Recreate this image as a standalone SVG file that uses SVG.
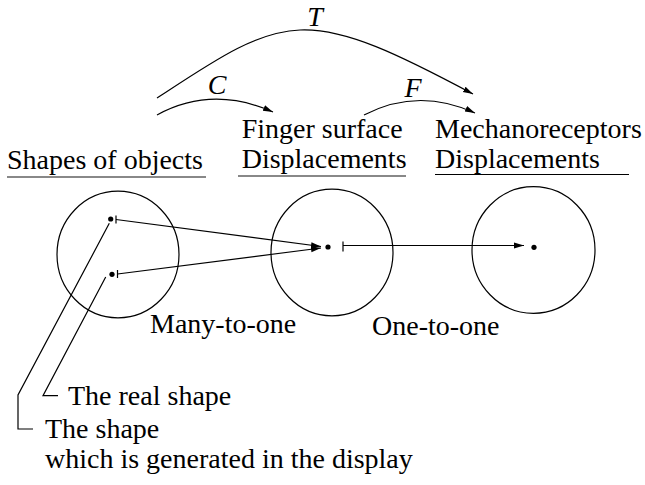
<svg xmlns="http://www.w3.org/2000/svg" width="645" height="485" viewBox="0 0 645 485">
<style>
text{font-family:"Liberation Serif","Times New Roman",serif;font-size:28px;fill:#000}
.it{font-style:italic}
.ln{fill:none;stroke:#000;stroke-width:1.2}
.ul{stroke:#888;stroke-width:2}
.ulb{stroke:#000;stroke-width:1.2}
.dot{fill:#000}
</style>
<defs>
<marker id="ah" markerUnits="userSpaceOnUse" markerWidth="12" markerHeight="8" refX="10" refY="4" orient="auto">
<path d="M0,1 L10,4 L0,7 z" fill="#000"/>
</marker>
</defs>
<g id="labels-top">
<text class="it" x="315" y="25.5" text-anchor="middle">T</text>
<text class="it" x="217" y="94" text-anchor="middle">C</text>
<text class="it" x="413" y="97" text-anchor="middle">F</text>
</g>
<g id="node-shapes">
<text x="7" y="169">Shapes of objects</text>
<line class="ul" x1="7" y1="177" x2="206" y2="177"/>
<ellipse class="ln" cx="118" cy="254.5" rx="61" ry="63.3"/>
<circle class="dot" cx="110.7" cy="219" r="2.6"/>
<circle class="dot" cx="112" cy="274.3" r="2.6"/>
</g>
<g id="node-finger">
<text x="241.7" y="138">Finger surface</text>
<text x="241.7" y="168">Displacements</text>
<line class="ul" x1="238" y1="176" x2="406" y2="176"/>
<ellipse class="ln" cx="332" cy="252.5" rx="61" ry="63.3"/>
<circle class="dot" cx="328" cy="247" r="2.6"/>
</g>
<g id="node-mech">
<text x="435" y="138">Mechanoreceptors</text>
<text x="435" y="168">Displacements</text>
<line class="ulb" x1="435" y1="174.5" x2="629" y2="174.5"/>
<ellipse class="ln" cx="533.5" cy="250" rx="61.5" ry="63.3"/>
<circle class="dot" cx="534" cy="247.3" r="2.6"/>
</g>
<g id="mapping-labels">
<text x="150" y="333">Many-to-one</text>
<text x="372" y="335">One-to-one</text>
</g>
<g id="annotations">
<text x="68" y="405">The real shape</text>
<text x="45" y="438">The shape</text>
<text x="45" y="468">which is generated in the display</text>
</g>
<g id="connectors">
<path class="ln" d="M157,98 C215,60 255,32 300,30 C345,28 400,55 473,94" marker-end="url(#ah)"/>
<path class="ln" d="M157,115 Q212,85 273,112" marker-end="url(#ah)"/>
<path class="ln" d="M364,115 Q418,87 475,113" marker-end="url(#ah)"/>
<line class="ln" x1="116" y1="219.5" x2="321" y2="246.5" marker-end="url(#ah)"/>
<line class="ln" x1="116" y1="215.5" x2="116" y2="223.5"/>
<line class="ln" x1="117.5" y1="274" x2="321" y2="248" marker-end="url(#ah)"/>
<line class="ln" x1="117.5" y1="270" x2="117.5" y2="278"/>
<line class="ln" x1="343" y1="245.5" x2="524" y2="245.5" marker-end="url(#ah)"/>
<line class="ln" x1="343" y1="241.5" x2="343" y2="251.5"/>
<polyline class="ln" points="109.3,223.3 18,395 18,429 33,429"/>
<polyline class="ln" points="105.7,277 43,395.7 58,395.7"/>
</g>
</svg>
